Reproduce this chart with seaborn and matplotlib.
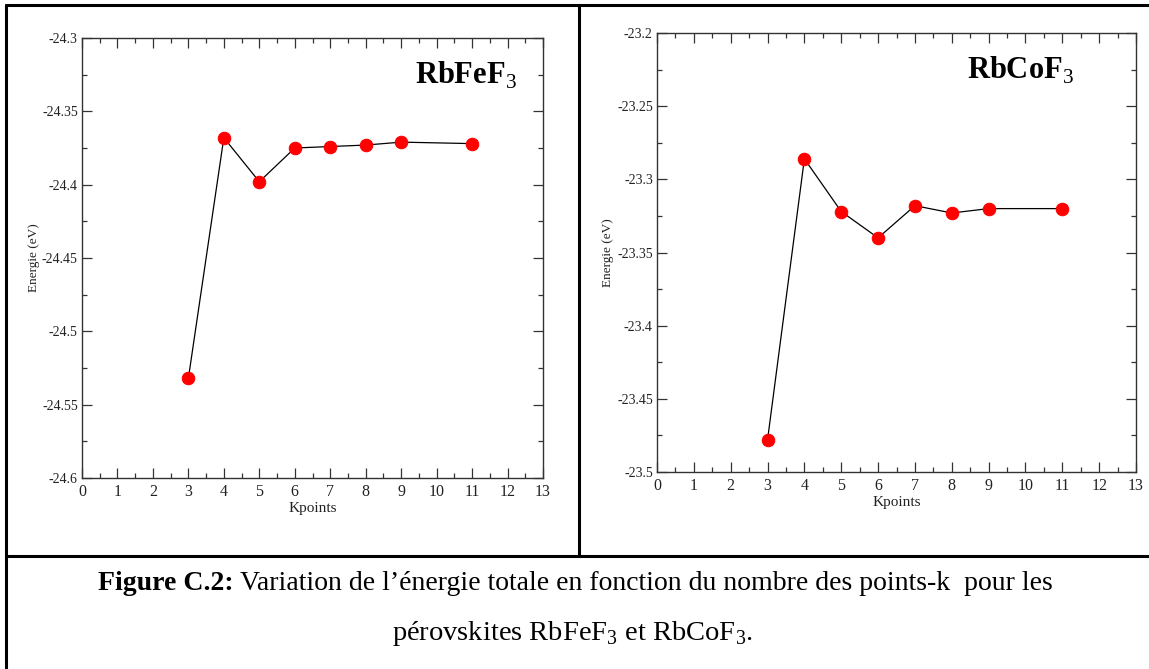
import matplotlib
matplotlib.use("Agg")
import matplotlib.pyplot as plt
from matplotlib.lines import Line2D
from matplotlib.ticker import MultipleLocator, FuncFormatter
import seaborn as sns
import pandas as pd

sns.set_theme(style="white")
plt.rcParams['font.family'] = ['Liberation Serif', 'DejaVu Serif']
plt.rcParams['mathtext.fontset'] = 'custom'
plt.rcParams['mathtext.rm'] = 'Liberation Serif'
plt.rcParams['mathtext.bf'] = 'Liberation Serif:bold'
plt.rcParams['text.color'] = 'black'

kpoints = [3, 4, 5, 6, 7, 8, 9, 11]
energy_fe = [-24.532, -24.368, -24.398, -24.375, -24.374, -24.373, -24.371, -24.372]
energy_co = [-23.478, -23.286, -23.322, -23.340, -23.318, -23.323, -23.320, -23.320]
titles = ["RbFeF$_3$", "RbCoF$_3$"]
ylims = [(-24.6, -24.3), (-23.5, -23.2)]

W, H = 1149, 669
fig = plt.figure(figsize=(W / 100, H / 100), dpi=100)

def frac(x0, x1, ytop, ybot):
    return [x0 / W, 1 - ybot / H, (x1 - x0) / W, (ybot - ytop) / H]

axes = [fig.add_axes(frac(82, 543, 38, 478)), fig.add_axes(frac(657, 1136, 33, 472))]
labelpos = [(0.833, 0.916), (0.758, 0.915)]
ylabx = [(40 - 82) / 461, (614 - 657) / 479]

def fmt(v, pos):
    s = ("%.2f" % v).rstrip('0').rstrip('.')
    return s

for ax, e, t, yl, lp, lx in zip(axes, [energy_fe, energy_co], titles, ylims, labelpos, ylabx):
    df = pd.DataFrame({"Kpoints": kpoints, "E": e})
    sns.lineplot(data=df, x="Kpoints", y="E", ax=ax, color="black", lw=0.9,
                 marker="o", markersize=9, markerfacecolor="red", markeredgecolor="red")
    ax.set_xlim(0, 13)
    ax.set_ylim(*yl)
    ax.xaxis.set_major_locator(MultipleLocator(1))
    ax.xaxis.set_minor_locator(MultipleLocator(0.5))
    ax.yaxis.set_major_locator(MultipleLocator(0.05))
    ax.yaxis.set_minor_locator(MultipleLocator(0.025))
    ax.yaxis.set_major_formatter(FuncFormatter(fmt))
    ax.tick_params(which="both", direction="in", top=True, right=True, bottom=True, left=True,
                   color="#333333", width=0.9)
    ax.tick_params(which="major", length=7, labelcolor="#222222")
    ax.tick_params(axis="x", which="major", labelsize=11.5, pad=4)
    ax.tick_params(axis="y", which="major", labelsize=10, pad=3)
    ax.tick_params(which="minor", length=3.5)
    for sp in ax.spines.values():
        sp.set_color("#333333")
        sp.set_linewidth(1.0)
    ax.set_xlabel("Kpoints", fontsize=11, color="#222222", labelpad=2)
    ax.set_ylabel("Energie (eV)", fontsize=9.5, color="#222222")
    ax.yaxis.set_label_coords(lx, 0.5)
    ax.text(lp[0], lp[1], t, transform=ax.transAxes, fontsize=22, fontweight="bold",
            ha="center", va="center", color="black")

# table borders
lines = [((6, 6), (5, 669)), ((6, 1149), (5, 5)), ((579, 579), (5, 556)), ((6, 1149), (556, 556))]
for xs, ys in lines:
    fig.add_artist(Line2D([x / W for x in xs], [1 - y / H for y in ys], color="black", lw=2.2,
                          transform=fig.transFigure))

# caption
fig.canvas.draw()
r = fig.canvas.get_renderer()
cap_y1 = 1 - 583 / H
t1 = fig.text(98 / W, cap_y1, "Figure C.2:", fontsize=20, fontweight="bold", ha="left",
              va="center", color="black")
bb = t1.get_window_extent(renderer=r)
fig.text((bb.x1 + 6) / W, cap_y1,
         "Variation de l\u2019\u00e9nergie totale en fonction du nombre des points-k  pour les",
         fontsize=20, ha="left", va="center", color="black")
fig.text(573 / W, 1 - 634 / H, "p\u00e9rovskites RbFeF$_3$ et RbCoF$_3$.", fontsize=20.5,
         ha="center", va="center", color="black")

fig.savefig("out.png", dpi=100)
